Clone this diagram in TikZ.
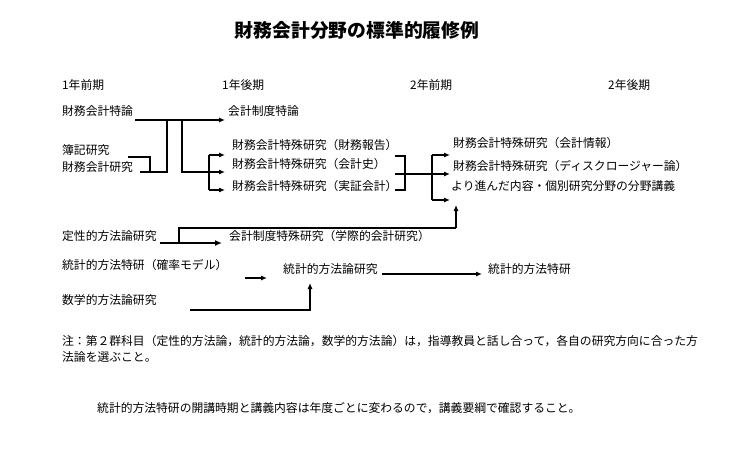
\documentclass[tikz,border=0pt]{standalone}
\usepackage{fontspec}
\newfontfamily\jp{Noto Sans CJK JP}
\usetikzlibrary{arrows.meta}
\begin{document}
\begin{tikzpicture}[x=1pt,y=-1pt,
  txt/.style={anchor=west,inner sep=0pt,font=\jp\fontsize{11.8}{14}\selectfont},
  ttl/.style={inner sep=0pt,font=\jp\bfseries\fontsize{18.8}{22}\selectfont},
  ln/.style={line width=1.1pt},
  arr/.style={line width=1.1pt,-{Latex[length=6pt,width=5pt]}},
  thickarr/.style={line width=2.2pt,-{Latex[length=7pt,width=6pt]}}]
\useasboundingbox[fill=white] (0,0) rectangle (740,452);
% title and headers
\node[ttl] (title) at (357,30) {財務会計分野の標準的履修例};
\node[txt] (h1) at (62,85) {1年前期};
\node[txt] (h2) at (222,85) {1年後期};
\node[txt] (h3) at (410,85) {2年前期};
\node[txt] (h4) at (608,85) {2年後期};
% texts
\node[txt] (zt) at (62,111) {財務会計特論};
\node[txt] (st) at (228,111) {会計制度特論};
\node[txt] (bk) at (62,150) {簿記研究};
\node[txt] (zk) at (62,167) {財務会計研究};
\node[txt] (m1) at (232,145) {財務会計特殊研究（財務報告）};
\node[txt] (m2) at (232,164) {財務会計特殊研究（会計史）};
\node[txt] (m3) at (232,186) {財務会計特殊研究（実証会計）};
\node[txt] (r1) at (453,143) {財務会計特殊研究（会計情報）};
\node[txt] (r2) at (453,166) {財務会計特殊研究（ディスクロージャー論）};
\node[txt] (r3) at (451,186) {より進んだ内容・個別研究分野の分野講義};
\node[txt] (tq) at (62,236) {定性的方法論研究};
\node[txt] (gs) at (229,236) {会計制度特殊研究（学際的会計研究）};
\node[txt] (kr) at (62,265) {統計的方法特研（確率モデル）};
\node[txt] (tk) at (283,269) {統計的方法論研究};
\node[txt] (tt) at (488,269) {統計的方法特研};
\node[txt] (sg) at (62,300) {数学的方法論研究};
\node[txt] (n1) at (62,341) {注：第２群科目（定性的方法論，統計的方法論，数学的方法論）は，指導教員と話し合って，各自の研究方向に合った方};
\node[txt] (n2) at (62,357) {法論を選ぶこと。};
\node[txt] (n3) at (97,408) {統計的方法特研の開講時期と講義内容は年度ごとに変わるので，講義要綱で確認すること。};
% coordinates
\coordinate (zt0) at (135,120);
\coordinate (st0) at (225,120);
\coordinate (zk0) at (140,172);
\coordinate (bk0) at (128,157);
\coordinate (j1) at (167,120);
\coordinate (j2) at (182,120);
\coordinate (b1) at (209,155);
\coordinate (b2) at (209,172);
\coordinate (b3) at (209,190);
\coordinate (a1) at (225,155);
\coordinate (a2) at (225,172);
\coordinate (a3) at (225,190);
\coordinate (k1) at (395,156);
\coordinate (k2) at (395,174);
\coordinate (k3) at (395,190);
\coordinate (c1) at (432,155);
\coordinate (c2) at (432,174);
\coordinate (c3) at (432,200);
\coordinate (e1) at (450,155);
\coordinate (e2) at (450,174);
\coordinate (e3) at (450,200);
\coordinate (tq0) at (160,243);
\coordinate (tq1) at (222,243);
\coordinate (tqv) at (179,243);
\coordinate (up0) at (456,228);
\coordinate (up1) at (456,205);
\coordinate (kr0) at (245,278);
\coordinate (kr1) at (267,278);
\coordinate (tk0) at (382,274);
\coordinate (tk1) at (482,274);
\coordinate (sg0) at (190,310);
\coordinate (sg1) at (310,283);
% connectors
\draw[arr] (zt0) -- (st0);
\draw[ln] (zk0) -| (j1);
\draw[ln] (bk0) -| (150,172);
\draw[ln] (j2) |- (b2);
\draw[ln] (b1) -- (b3);
\draw[arr] (b1) -- (a1);
\draw[arr] (b2) -- (a2);
\draw[arr] (b3) -- (a3);
\draw[ln] (k1) -- (405,156) -- (405,190) -- (k3);
\draw[ln] (k2) -- (c2);
\draw[ln] (c1) -- (c3);
\draw[arr] (c1) -- (e1);
\draw[arr] (c2) -- (e2);
\draw[arr] (c3) -- (e3);
\draw[thickarr] (tq0) -- (tq1);
\draw[ln] (tqv) |- (up0);
\draw[arr] (up0) -- (up1);
\draw[arr] (kr0) -- (kr1);
\draw[arr] (tk0) -- (tk1);
\draw[arr] (sg0) -| (sg1);
\end{tikzpicture}
\end{document}
